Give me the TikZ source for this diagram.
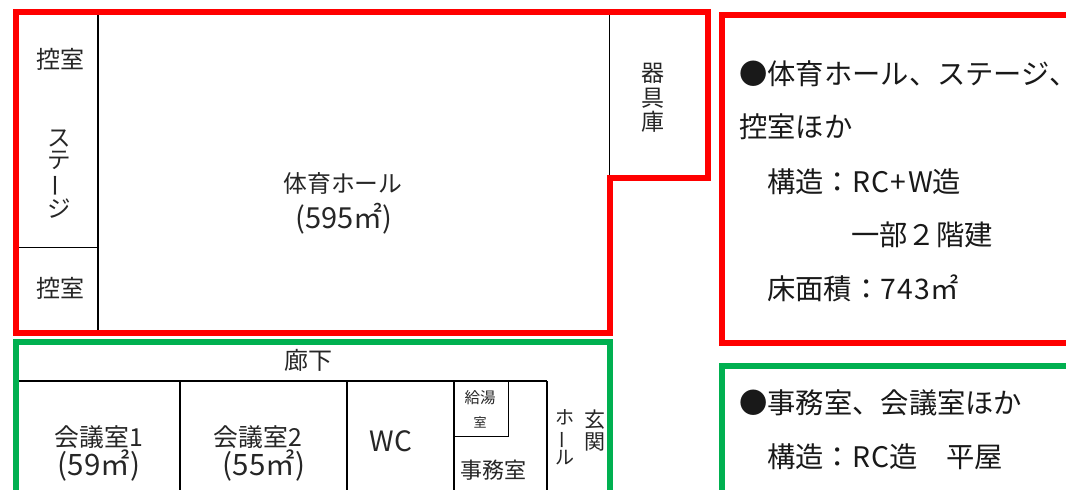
\documentclass[tikz,border=0pt]{standalone}
\usepackage{fontspec}
\setmainfont{Noto Sans CJK JP}
\definecolor{zonered}{RGB}{255,0,0}
\definecolor{zonegreen}{RGB}{0,176,80}
\newcommand{\vbar}{\rotatebox[origin=c]{90}{ー}}
\newcommand{\wide}[1]{{\addfontfeature{LetterSpace=5}#1}}
\tikzset{
  zone/.style={line width=6pt,line join=miter},
  wall/.style={line width=1.3pt,black},
  thinwall/.style={line width=0.9pt,black},
  room/.style 2 args={inner sep=0pt,align=center,text=black!85,font=\fontsize{#1}{#2}\selectfont},
  note/.style={inner sep=0pt,anchor=west,font=\fontsize{28.3}{32}\selectfont,text=black!90},
}
\begin{document}
\begin{tikzpicture}[x=1pt,y=-1pt]
\useasboundingbox (0,0) rectangle (1066,490);
\clip (0,0) rectangle (1066,490);
\fill[white] (0,0) rectangle (1066,490);
% inner walls
\draw[wall] (98,12) -- (98,331);
\draw[thinwall] (19,247) -- (98,247);
\draw[thinwall] (609,12) -- (609,178);
\draw[wall] (19,381) -- (547,381);
\draw[wall] (180,381) -- (180,490);
\draw[wall] (347,381) -- (347,490);
\draw[wall] (454,381) -- (454,490);
\draw[wall] (547,381) -- (547,490);
\draw[thinwall] (454,436) -- (508,436) -- (508,381);
% zones
\draw[zone,zonegreen] (16,495) -- (16,341.5) -- (609.5,341.5) -- (609.5,495);
\draw[zone,zonered] (16,11.5) -- (708,11.5) -- (708,178) -- (609.5,178) -- (609.5,333) -- (16,333) -- cycle;
\draw[zone,zonered] (1070,14.5) -- (721.5,14.5) -- (721.5,343) -- (1070,343);
\draw[zone,zonegreen] (1070,365.5) -- (721.5,365.5) -- (721.5,495);
% rooms
\node[room={24}{26}] (r1) at (60,59) {控室};
\node[room={24}{26}] (r2) at (60,288) {控室};
\node[room={23.5}{22}] (r3) at (59,174) {ス\\テ\\\vbar\\ジ};
\node[room={23.8}{26}] (r4) at (343,183) {体育ホール};
\node[room={29}{30}] (r5) at (344,219) {(595㎡)};
\node[room={23}{24.5}] (r6) at (653,98) {器\\具\\庫};
\node[room={24}{26}] (r7) at (308,360) {廊下};
\node[room={24.8}{26}] (r8) at (99,437) {会議室1};
\node[room={29.5}{30}] (r9) at (99,466) {(59㎡)};
\node[room={24.8}{26}] (r10) at (258,437) {会議室2};
\node[room={29.5}{30}] (r11) at (264,466) {(55㎡)};
\node[room={28}{30}] (r12) at (391,441) {WC};
\node[room={15.5}{18}] (r13a) at (480,398) {給湯};
\node[room={13}{18}] (r13b) at (480,422) {室};
\node[room={22}{26}] (r14) at (493,470) {事務室};
\node[room={19}{20}] (r15) at (565,437) {ホ\\\vbar\\ル};
\node[room={21}{22}] (r16) at (595,431) {玄\\関};
% notes
\node[note] (n1) at (739,74) {●体育ホール、ステージ、\kern-13pt};
\node[note] (n2) at (739,127) {控室ほか};
\node[note] (n3) at (767,182) {構造：\wide{RC+W}造};
\node[note] (n4) at (851,235) {一部２階建};
\node[note] (n5) at (767,288) {床面積：\wide{743}㎡};
\node[note] (n6) at (739,403) {●事務室、会議室ほか};
\node[note] (n7) at (767,457) {構造：\wide{RC}造　平屋};
\end{tikzpicture}
\end{document}
